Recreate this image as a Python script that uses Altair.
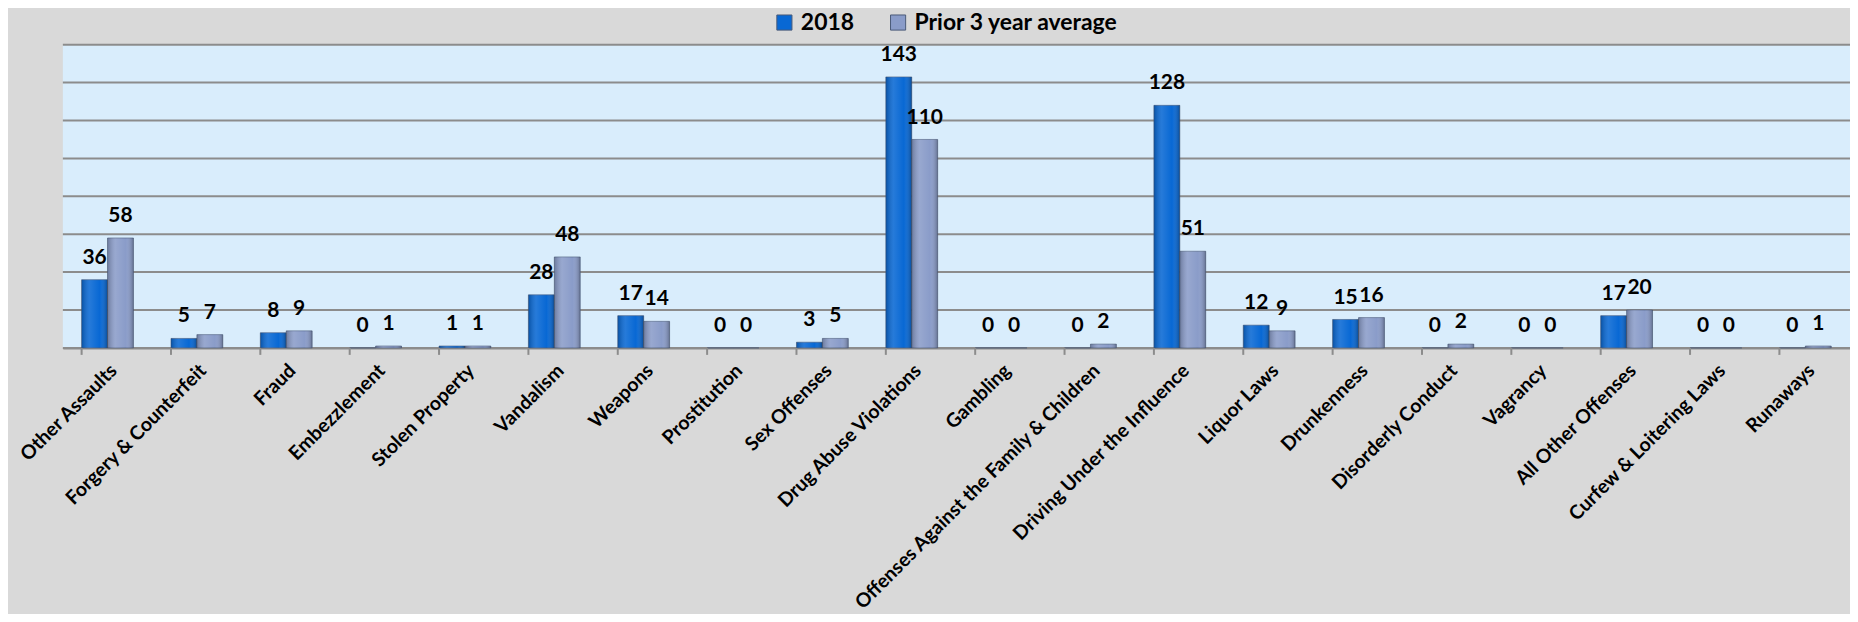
import altair as alt
import pandas as pd

categories = [
    "Other Assaults", "Forgery & Counterfeit", "Fraud", "Embezzlement",
    "Stolen Property", "Vandalism", "Weapons", "Prostitution", "Sex Offenses",
    "Drug Abuse Violations", "Gambling", "Offenses Against the Family & Children",
    "Driving Under the Influence", "Liquor Laws", "Drunkenness",
    "Disorderly Conduct", "Vagrancy", "All Other Offenses",
    "Curfew & Loitering Laws", "Runaways",
]
values_2018 = [36, 5, 8, 0, 1, 28, 17, 0, 3, 143, 0, 0, 128, 12, 15, 0, 0, 17, 0, 0]
values_prior = [58, 7, 9, 1, 1, 48, 14, 0, 5, 110, 0, 2, 51, 9, 16, 2, 0, 20, 0, 1]
series = ["2018", "Prior 3 year average"]
colors = ["#0868d4", "#8a9cc9"]
grid_values = [0, 20, 40, 60, 80, 100, 120, 140, 160]

rows = []
for c, a, b in zip(categories, values_2018, values_prior):
    rows.append({"category": c, "series": series[0], "value": a})
    rows.append({"category": c, "series": series[1], "value": b})
df = pd.DataFrame(rows)
cat_df = pd.DataFrame({"category": categories})
grid_df = pd.DataFrame({"value": grid_values})

FONT = "Lato"
GRID = "#8c8c8c"

x_enc = alt.X(
    "category:N", sort=categories, title=None,
    scale=alt.Scale(paddingInner=0.42, paddingOuter=0.21),
    axis=alt.Axis(
        labelAngle=-45, labelFont=FONT, labelFontSize=19.5, labelFontWeight="bold",
        labelColor="#000000", labelPadding=13, ticks=False, domain=True,
        domainColor=GRID, domainWidth=2, labelLimit=600, labelOverlap=False,
    ),
)
y_scale = alt.Scale(domain=[0, 160], nice=False)
y_enc = alt.Y("value:Q", title=None, scale=y_scale, axis=None)
xoff = alt.XOffset("series:N", scale=alt.Scale(domain=series, paddingInner=0))

grid = alt.Chart(grid_df).mark_rule(color=GRID, strokeWidth=2).encode(
    y=alt.Y("value:Q", scale=y_scale, axis=None),
)

base = alt.Chart(df)

bars = base.mark_bar(stroke="#4a5a78", strokeWidth=1, strokeOpacity=0.6).encode(
    x=x_enc,
    xOffset=xoff,
    y=y_enc,
    color=alt.Color(
        "series:N",
        scale=alt.Scale(domain=series, range=colors),
        legend=alt.Legend(
            title=None, orient="none", direction="horizontal",
            legendX=712, legendY=-34,
            labelFont=FONT, labelFontSize=23, labelFontWeight="bold",
            labelColor="#000000", symbolType="square", symbolSize=230,
            symbolStrokeColor="#4a5a78", symbolStrokeWidth=1,
            columnPadding=32, labelOffset=5, labelLimit=500,
        ),
    ),
)

shade = base.mark_bar(
    fill=alt.Gradient(
        gradient="linear", x1=0, x2=1, y1=0, y2=0,
        stops=[
            alt.GradientStop(offset=0, color="rgba(0,0,0,0.22)"),
            alt.GradientStop(offset=0.3, color="rgba(255,255,255,0.12)"),
            alt.GradientStop(offset=0.7, color="rgba(255,255,255,0.0)"),
            alt.GradientStop(offset=1, color="rgba(0,0,0,0.28)"),
        ],
    )
).encode(x=alt.X("category:N", sort=categories), xOffset=xoff, y=y_enc)

labels = base.mark_text(
    font=FONT, fontSize=21, fontWeight="bold", color="#000000",
    baseline="bottom", dy=-12,
).encode(
    x=alt.X("category:N", sort=categories),
    xOffset=xoff,
    y=y_enc,
    text="value:Q",
)

ticks = alt.Chart(cat_df).mark_rule(color=GRID, strokeWidth=2).encode(
    x=alt.X("category:N", sort=categories, bandPosition=0),
    y=alt.value(304),
    y2=alt.value(311),
)

chart = (
    alt.layer(grid, bars, shade, labels, ticks)
    .properties(
        width=1792, height=304,
        padding={"left": 55, "top": 36, "right": 0, "bottom": 266},
        autosize=alt.AutoSizeParams(type="none"),
        background="#d9d9d9",
    )
    .configure_view(fill="#d9edfc", stroke=None, strokeWidth=0)
)

chart.save("out.html", embed_options={"renderer": "svg", "actions": False})
